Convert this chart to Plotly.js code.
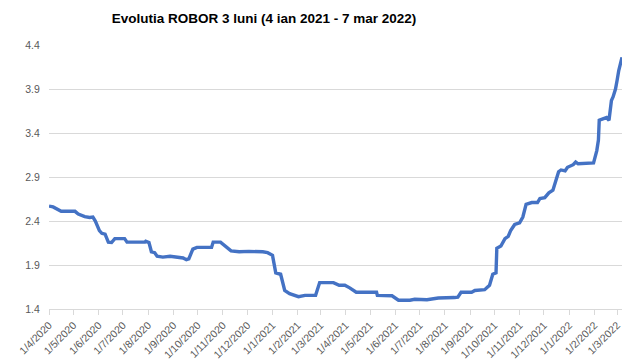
<!DOCTYPE html>
<html>
<head>
<meta charset="utf-8">
<script src="https://cdn.plot.ly/plotly-3.0.1.min.js"></script>
<style>html,body{margin:0;padding:0;background:#fff;}#chart{width:640px;height:360px;}</style>
</head>
<body>
<div id="chart"></div>
<script>
// Dates (x) and ROBOR 3M values (y)
const dates = [
 "2020-04-01","2020-04-06","2020-04-16","2020-05-03","2020-05-07","2020-05-15","2020-05-21","2020-05-25","2020-05-28",
 "2020-06-02","2020-06-05","2020-06-09","2020-06-13","2020-06-17","2020-06-21","2020-07-03","2020-07-06","2020-07-28",
 "2020-07-29","2020-08-02","2020-08-05","2020-08-09","2020-08-12","2020-08-19","2020-08-28","2020-09-09","2020-09-13",
 "2020-09-17","2020-09-20","2020-09-25","2020-09-30","2020-10-18","2020-10-20","2020-10-29","2020-11-01","2020-11-06",
 "2020-11-11","2020-11-21","2020-12-03","2020-12-20","2020-12-26","2021-01-01","2021-01-05","2021-01-11","2021-01-16",
 "2021-01-22","2021-02-02","2021-02-10","2021-02-23","2021-02-28","2021-03-17","2021-03-24","2021-03-31","2021-04-06",
 "2021-04-14","2021-05-09","2021-05-10","2021-05-28","2021-06-05","2021-06-19","2021-06-25","2021-07-10","2021-07-24",
 "2021-08-13","2021-08-17","2021-08-21","2021-09-03","2021-09-07","2021-09-19","2021-09-25","2021-09-29","2021-10-03",
 "2021-10-04","2021-10-09","2021-10-14","2021-10-18","2021-10-21","2021-10-26","2021-11-01","2021-11-05","2021-11-09",
 "2021-11-16","2021-11-23","2021-11-26","2021-12-02","2021-12-07","2021-12-12","2021-12-19","2021-12-22","2021-12-27",
 "2021-12-30","2022-01-06","2022-01-09","2022-01-12","2022-01-31","2022-02-04","2022-02-06","2022-02-07","2022-02-12",
 "2022-02-16","2022-02-19","2022-02-22","2022-02-24","2022-02-27","2022-03-01","2022-03-03","2022-03-07"
];
const robor = [
 2.57,2.56,2.51,2.51,2.48,2.45,2.44,2.445,2.40,
 2.29,2.26,2.25,2.16,2.155,2.20,2.20,2.16,2.16,
 2.17,2.155,2.05,2.04,2.00,1.99,2.00,1.99,1.98,
 1.96,1.97,2.08,2.10,2.10,2.16,2.16,2.135,2.095,
 2.06,2.05,2.055,2.05,2.04,2.01,1.81,1.795,1.61,
 1.575,1.54,1.555,1.555,1.70,1.70,1.67,1.67,1.64,
 1.59,1.59,1.555,1.55,1.50,1.50,1.51,1.505,1.525,
 1.53,1.535,1.59,1.59,1.61,1.62,1.67,1.795,1.81,
 2.09,2.115,2.20,2.225,2.29,2.36,2.38,2.445,2.59,
 2.61,2.61,2.655,2.665,2.72,2.75,2.96,2.98,2.97,
 3.01,3.04,3.07,3.05,3.06,3.20,3.32,3.545,3.56,
 3.575,3.545,3.77,3.81,3.90,4.00,4.11,4.26
];
const tickDates = [
 "2020-04-01","2020-05-01","2020-06-01","2020-07-01","2020-08-01","2020-09-01","2020-10-01","2020-11-01",
 "2020-12-01","2021-01-01","2021-02-01","2021-03-01","2021-04-01","2021-05-01","2021-06-01","2021-07-01",
 "2021-08-01","2021-09-01","2021-10-01","2021-11-01","2021-12-01","2022-01-01","2022-02-01","2022-03-01"
];
const tickLabels = [
 "1/4/2020","1/5/2020","1/6/2020","1/7/2020","1/8/2020","1/9/2020","1/10/2020","1/11/2020",
 "1/12/2020","1/1/2021","1/2/2021","1/3/2021","1/4/2021","1/5/2021","1/6/2021","1/7/2021",
 "1/8/2021","1/9/2021","1/10/2021","1/11/2021","1/12/2021","1/1/2022","1/2/2022","1/3/2022"
];
const titleText = "Evolutia ROBOR 3 luni (4 ian 2021 - 7 mar 2022)";

const trace = {
  x: dates, y: robor, type: "scatter", mode: "lines",
  line: {color: "#4472C4", width: 3.4, shape: "linear"},
  hoverinfo: "skip"
};
const layout = {
  width: 640, height: 360,
  margin: {l: 49, r: 18, t: 45, b: 51, pad: 0},
  paper_bgcolor: "#ffffff", plot_bgcolor: "#ffffff",
  showlegend: false,
  title: {
    text: titleText,
    font: {family: "Liberation Sans, Arial, sans-serif", size: 13.5, color: "#000000", weight: "bold"},
    xref: "container", yref: "container", x: 264/640, y: 1 - 18.5/360,
    xanchor: "center", yanchor: "middle"
  },
  xaxis: {
    type: "date",
    range: ["2020-04-01", "2022-03-07"],
    tickmode: "array", tickvals: tickDates, ticktext: tickLabels,
    tickangle: -45,
    tickfont: {family: "Liberation Sans, Arial, sans-serif", size: 10.5, color: "#595959"},
    showgrid: false, zeroline: false,
    showline: true, linecolor: "#D9D9D9", linewidth: 1,
    ticks: "outside", ticklen: 5, tickcolor: "#D9D9D9", tickwidth: 1
  },
  yaxis: {
    range: [1.4, 4.4],
    tick0: 1.4, dtick: 0.5, tickformat: ".1f",
    tickfont: {family: "Liberation Sans, Arial, sans-serif", size: 10.5, color: "#595959"},
    showgrid: true, gridcolor: "#D9D9D9", gridwidth: 1,
    zeroline: false, showline: false,
    ticks: "outside", ticklen: 6, tickcolor: "rgba(0,0,0,0)"
  }
};
Plotly.newPlot("chart", [trace], layout, {staticPlot: true, displayModeBar: false});
</script>
</body>
</html>
